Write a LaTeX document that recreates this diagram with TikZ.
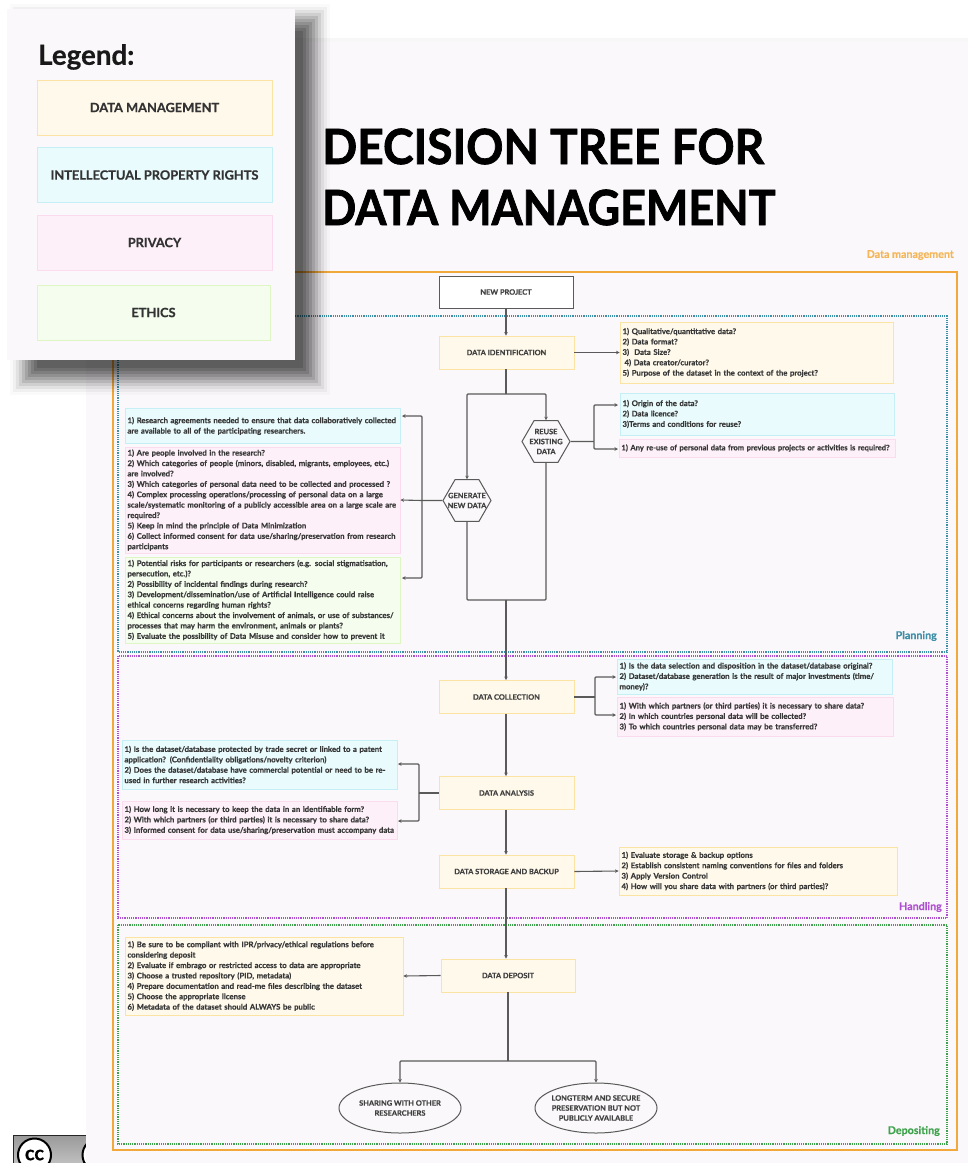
\documentclass[tikz,border=0pt]{standalone}
\usepackage{graphicx}
\usepackage{fontspec}
\setmainfont[BoldFeatures={FakeBold=.5}]{Lato}
\newfontfamily\titlefont[BoldFeatures={FakeBold=1.6}]{Lato}
\usetikzlibrary{arrows.meta,shapes.geometric}
\definecolor{panelbg}{HTML}{FAF8FA}
\definecolor{wire}{HTML}{5A5A5A}
\definecolor{orangeline}{HTML}{F2A93B}
\definecolor{dmfill}{HTML}{FFF9EB}
\definecolor{dmline}{HTML}{FBE3A4}
\definecolor{iprfill}{HTML}{E9FBFD}
\definecolor{iprline}{HTML}{C6EEF5}
\definecolor{privfill}{HTML}{FEF0F9}
\definecolor{privline}{HTML}{FADCEE}
\definecolor{ethfill}{HTML}{F4FDEE}
\definecolor{ethline}{HTML}{DDF6C4}
\definecolor{planline}{HTML}{3E8FA8}
\definecolor{handline}{HTML}{B04FD0}
\definecolor{depline}{HTML}{3FA34D}
\begin{document}
\begin{tikzpicture}[x=1pt,y=-1pt,
        txt/.style={font=\fontsize{7.75}{10.4}\selectfont\bfseries,text=black!78,align=left,inner sep=0pt},
        tag/.style={font=\fontsize{7.4}{10}\selectfont\bfseries,text=black!75,align=center,inner sep=0pt},
        size/.style 2 args={minimum width=#1,minimum height=#2,text width=#1-5pt},
        dm/.style={txt,draw=dmline,fill=dmfill,line width=.9pt},
        ipr/.style={txt,draw=iprline,fill=iprfill,line width=.9pt},
        priv/.style={txt,draw=privline,fill=privfill,line width=.9pt},
        eth/.style={txt,draw=ethline,fill=ethfill,line width=.9pt},
        stage/.style={tag,draw=dmline,fill=dmfill,line width=.9pt,minimum width=135pt,minimum height=33pt},
        hex/.style={tag,draw=wire,fill=panelbg,line width=1pt,regular polygon,regular polygon sides=6,minimum size=48pt,inner sep=-12pt},
        oval/.style={tag,draw=wire,fill=panelbg,line width=1pt,ellipse,minimum width=122pt,minimum height=50pt,inner sep=-4pt},
        wires/.style={draw=wire,line width=1.1pt,rounded corners=1pt},
        arr/.style={wires,-{Stealth[length=3.5pt,width=3.5pt]}},
        legbox/.style={font=\fontsize{12.8}{14}\selectfont\bfseries,text=black!80,line width=1pt,minimum height=55pt,inner sep=0pt},
        phase/.style={font=\fontsize{10.7}{12}\selectfont\bfseries,inner sep=0pt,anchor=east},
        frame/.style={line width=1.2pt,densely dotted}]
        \useasboundingbox (0,0) rectangle (968,1163);
        \fill[white] (0,0) rectangle (968,1163);
        \shade[top color=black!40,bottom color=black!25] (13,1135) rectangle (90,1163);
        \draw[black!85,line width=.8pt] (13,1163) -- (13,1135) -- (90,1135);
        \node[circle,draw=black,fill=white,line width=2pt,minimum size=33pt,inner sep=0pt,font=\fontsize{20}{20}\selectfont\bfseries] (cc) at (34.5,1155) {cc};
        \node[circle,draw=black,fill=white,line width=2pt,minimum size=33pt,inner sep=0pt] (by) at (99,1155) {};
        \fill[black!3] (86,38) rectangle (968,1163);
        \fill[panelbg] (86,42) rectangle (968,1163);

        \draw[orangeline,line width=1.4pt] (113,272) rectangle (957,1150);
        \draw[frame,planline] (118,316) rectangle (947,652);
        \draw[frame,handline] (118,656) rectangle (947,918);
        \draw[frame,depline] (118,925) rectangle (947,1144);

        \foreach \r/\o in {20/.02,17/.04,14/.06,11/.08,8/.1,5/.11,2/.12,-1/.12,-4/.12,-7/.12}
                \fill[black,opacity=\o] (30-\r,24-\r) rectangle (310+\r,375+\r);
        \fill[panelbg] (7,9) rectangle (295,360);
        \node[anchor=west,inner sep=0pt,font=\fontsize{27.7}{30}\selectfont\bfseries,text=black!90] (legend) at (38,57) {Legend:};
        \node[legbox,draw=dmline,fill=dmfill,minimum width=235pt] (legdm) at (154.5,107.5) {DATA MANAGEMENT};
        \node[legbox,draw=iprline,fill=iprfill,minimum width=235pt] (legipr) at (154.5,175) {INTELLECTUAL PROPERTY RIGHTS};
        \node[legbox,draw=privline,fill=privfill,minimum width=235pt] (legpriv) at (154.5,242.5) {PRIVACY};
        \node[legbox,draw=ethline,fill=ethfill,minimum width=233pt] (legeth) at (153.5,312.5) {ETHICS};

        \node[anchor=west,inner sep=0pt,font=\titlefont\fontsize{48.5}{61}\selectfont\bfseries,text=black,align=left] (title) at (322,177) {\scalebox{.95}[1]{DECISION TREE FOR}\\\scalebox{.925}[1]{DATA MANAGEMENT}};
        \node[phase,text=orangeline!85] (dmtag) at (954,255) {Data management};
        \node[phase,text=planline] (plantag) at (937,636) {Planning};
        \node[phase,text=handline] (handtag) at (942,907) {Handling};
        \node[phase,text=depline] (deptag) at (940,1131) {Depositing};

        \node[tag,draw=wire,fill=white,line width=1pt,minimum width=134pt,minimum height=32pt] (newproject) at (506,292) {NEW PROJECT};
        \node[stage] (dataid) at (506.5,352.5) {DATA IDENTIFICATION};
        \node[stage] (collection) at (506.5,697) {DATA COLLECTION};
        \node[stage] (analysis) at (506.5,793) {DATA ANALYSIS};
        \node[stage] (storage) at (506.5,871.5) {DATA STORAGE AND BACKUP};
        \node[stage,minimum width=134pt] (deposit) at (508,975.5) {DATA DEPOSIT};

        \node[hex] (reuse) at (546,441.5) {REUSE\\EXISTING\\DATA};
        \node[hex] (generate) at (467,500.5) {GENERATE\\NEW DATA};

        \node[oval] (sharing) at (400,1108) {SHARING WITH OTHER\\RESEARCHERS};
        \node[oval] (longterm) at (596,1108) {LONGTERM AND SECURE\\PRESERVATION BUT NOT\\PUBLICLY AVAILABLE};

        \node[dm,size={273pt}{61pt}] (idq) at (756.5,352.5) {1) Qualitative/quantitative data?\\2) Data format?\\3) \ Data Size?\\\hspace*{2pt}4) Data creator/curator?\\5) Purpose of the dataset in the context of the project?};
        \node[ipr,size={274pt}{42pt}] (reuseipr) at (757,414) {1) Origin of the data?\\2) Data licence?\\3)Terms and conditions for reuse?};
        \node[priv,size={276pt}{18pt},font=\fontsize{7.55}{10.4}\selectfont\bfseries] (reusepriv) at (757,448) {\mbox{1) Any re-use of personal data from previous projects or activities is required?}};
        \node[ipr,size={275pt}{35pt}] (genipr) at (262.5,426) {1) Research agreements needed to ensure that data collaboratively collected\\are available to all of the participating researchers.};
        \node[priv,size={275pt}{106pt}] (genpriv) at (262.5,500) {1) Are people involved in the research?\\2) Which categories of people (minors, disabled, migrants, employees, etc.)\\are involved?\\3) Which categories of personal data need to be collected and processed ?\\4) Complex processing operations/processing of personal data on a large\\scale/systematic monitoring of a publicly accessible area on a large scale are\\required?\\5) Keep in mind the principle of Data Minimization\\6) Collect informed consent for data use/sharing/preservation from research\\participants};
        \node[eth,size={275pt}{86pt}] (geneth) at (262.5,600) {1) Potential risks for participants or researchers (e.g. social stigmatisation,\\persecution, etc.)?\\2) Possibility of incidental findings during research?\\3) Development/dissemination/use of Artificial Intelligence could raise\\ethical concerns regarding human rights?\\4) Ethical concerns about the involvement of animals, or use of substances/\\processes that may harm the environment, animals or plants?\\5) Evaluate the possibility of Data Misuse and consider how to prevent it};
        \node[ipr,size={275pt}{35pt}] (colipr) at (754.5,676.5) {1) Is the data selection and disposition in the dataset/database original?\\2) Dataset/database generation is the result of major investments (time/\\money)?};
        \node[priv,size={276pt}{39pt}] (colpriv) at (755,716.5) {1) With which partners (or third parties) it is necessary to share data?\\2) In which countries personal data will be collected?\\3) To which countries personal data may be transferred?};
        \node[ipr,size={275pt}{49pt}] (anaipr) at (259.5,764.5) {1) Is the dataset/database protected by trade secret or linked to a patent\\application? (Confidentiality obligations/novelty criterion)\\2) Does the dataset/database have commercial potential or need to be re-\\used in further research activities?};
        \node[priv,size={275pt}{38pt}] (anapriv) at (259.5,820) {1) How long it is necessary to keep the data in an identifiable form?\\2) With which partners (or third parties) it is necessary to share data?\\3) Informed consent for data use/sharing/preservation must accompany data};
        \node[dm,size={278pt}{48pt}] (stoq) at (758,871) {1) Evaluate storage \& backup options\\2) Establish consistent naming conventions for files and folders\\3) Apply Version Control\\4) How will you share data with partners (or third parties)?};
        \node[dm,size={278pt}{78pt}] (depq) at (264,976) {1) Be sure to be compliant with IPR/privacy/ethical regulations before\\considering deposit\\2) Evaluate if embrago or restricted access to data are appropriate\\3) Choose a trusted repository (PID, metadata)\\4) Prepare documentation and read-me files describing the dataset\\5) Choose the appropriate license\\6) Metadata of the dataset should ALWAYS be public};

        \coordinate (split) at (506,394);
        \coordinate (merge) at (506,600);
        \coordinate (genfork) at (422,500.5);
        \coordinate (reusefork) at (594,441.5);
        \coordinate (colfork) at (595,697);
        \coordinate (anafork) at (419,793);
        \coordinate (depfork) at (508,1061);
        \coordinate (gentop) at (402,416);
        \coordinate (genbot) at (402,578);
        \coordinate (reusetop) at (618,405);
        \coordinate (reusebot) at (618,449);
        \coordinate (coltop) at (616,677);
        \coordinate (colbot) at (616,715);
        \coordinate (anatop) at (398,764);
        \coordinate (anabot) at (398,821);

        \draw[arr] (newproject.south) -- (newproject.south |- dataid.north);
        \draw[wires] (dataid.south -| split) -- (split);
        \draw[arr] (split) -| (generate.north);
        \draw[arr] (split) -| (reuse.north);
        \draw[arr] (dataid.east) -- (idq.west);
        \draw[wires] (generate.south) |- (merge);
        \draw[wires] (reuse.south) |- (merge);
        \draw[arr] (merge) -- (merge |- collection.north);
        \draw[wires] (generate.west) -- (genfork);
        \draw[arr] (genfork) -- (genpriv.east);
        \draw[arr] (genfork) |- (gentop);
        \draw[arr] (genfork) |- (genbot);
        \draw[wires] (reuse.east) -- (reusefork);
        \draw[arr] (reusefork) |- (reusetop);
        \draw[arr] (reusefork) |- (reusebot);
        \draw[wires] (collection.east) -- (colfork);
        \draw[arr] (colfork) |- (coltop);
        \draw[arr] (colfork) |- (colbot);
        \draw[arr] (collection.south -| merge) -- (merge |- analysis.north);
        \draw[arr] (analysis.south -| merge) -- (merge |- storage.north);
        \draw[wires] (analysis.west) -- (anafork);
        \draw[arr] (anafork) |- (anatop);
        \draw[arr] (anafork) |- (anabot);
        \draw[arr] (storage.east) -- (stoq.west);
        \draw[arr] (storage.south -| merge) -- (merge |- deposit.north);
        \draw[arr] (deposit.west) -- (depq.east);
        \draw[wires] (deposit.south) -- (depfork);
        \draw[arr] (depfork) -| (sharing.north);
        \draw[arr] (depfork) -| (longterm.north);
\end{tikzpicture}
\end{document}
